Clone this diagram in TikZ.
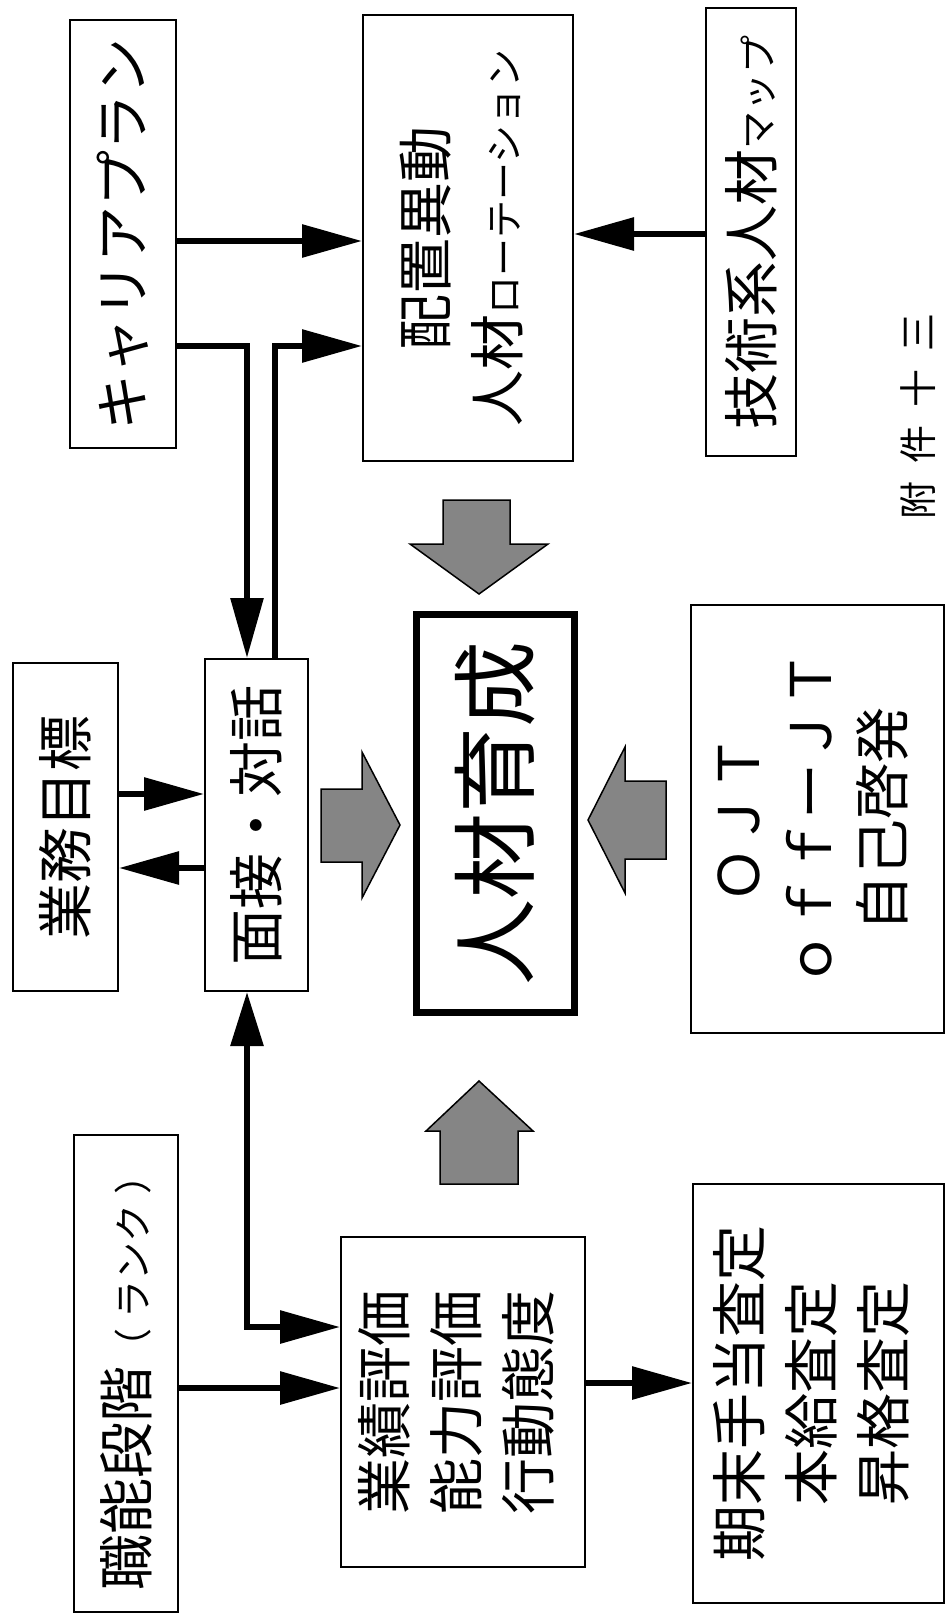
\documentclass[tikz,border=0pt]{standalone}
\usepackage{fontspec}
\setmainfont{Noto Sans CJK JP}
\usepackage{graphicx}
\usetikzlibrary{arrows.meta}
\newcommand{\FBig}{\fontsize{56}{72}\selectfont}
\newcommand{\FSmall}{\fontsize{38}{40}\selectfont}
\newcommand{\FParen}{\fontsize{38}{40}\selectfont}
\newcommand{\FHuge}{\fontsize{86}{90}\selectfont}
\newcommand{\RT}[1]{\rotatebox{90}{#1}}
\begin{document}
\begin{tikzpicture}[x=1pt, y=-1pt,
  box/.style={draw, line width=2pt, inner sep=0pt, anchor=north west, align=center},
  conn/.style={line width=6pt, -{Triangle[length=60pt,width=32pt]}},
  conntwo/.style={line width=6pt, {Triangle[length=54pt,width=32pt]}-{Triangle[length=60pt,width=32pt]}},
  fat/.style={draw, line width=1.5pt, fill=black!48, line join=miter}]
\fill[white] (0,0) rectangle (945,1613);
\useasboundingbox (0,0) rectangle (945,1613);

% boxes
\node[box, minimum width=106pt, minimum height=428pt] (career) at (69,19)
  {\RT{\FBig キャリアプラン}};
\node[box, minimum width=210pt, minimum height=446pt] (haichi) at (362,14)
  {\RT{\FBig\begin{tabular}{@{}c@{}}配置異動\\人材{\FSmall ローテーション}\end{tabular}}};
\node[box, minimum width=90pt, minimum height=448pt] (gijutsu) at (705,7)
  {\RT{\FBig 技術系人材{\FSmall マップ}}};
\node[box, minimum width=105pt, minimum height=328pt] (gyomu) at (12,662)
  {\RT{\FBig 業務目標}};
\node[box, minimum width=103pt, minimum height=332pt] (mensetsu) at (204,658)
  {\RT{\FBig 面接・対話}};
\node[box, line width=7pt, minimum width=158pt, minimum height=398pt] (jinzai) at (413,611)
  {\RT{\FHuge 人材育成}};
\node[box, minimum width=253pt, minimum height=428pt] (ojt) at (690,604)
  {\RT{\FBig\begin{tabular}{@{}c@{}}ＯＪＴ\\ｏｆｆーＪＴ\\自己啓発\end{tabular}}};
\node[box, minimum width=104pt, minimum height=477pt] (shokuno) at (73,1134)
  {\RT{\FBig 職能段階{\FParen （\hspace{10pt}ランク\hspace{10pt}）}}};
\node[box, minimum width=244pt, minimum height=330pt] (hyoka) at (340,1236)
  {\RT{\FBig\begin{tabular}{@{}c@{}}業績評価\\能力評価\\行動態度\end{tabular}}};
\node[box, minimum width=251pt, minimum height=419pt] (kimatsu) at (692,1183)
  {\RT{\FBig\begin{tabular}{@{}c@{}}期末手当査定\\本給査定\\昇格査定\end{tabular}}};

\node[rotate=90, inner sep=0pt, font=\fontsize{38}{38}\selectfont] (fujian) at (918,416)
  {附\hspace{18pt}件\hspace{18pt}十\hspace{18pt}三};

% connectors
\draw[conn] (career.east |- 0,241) -- (haichi.west |- 0,241);
\draw[conn] (gijutsu.west |- 0,234) -- (haichi.east |- 0,234);
\draw[conn] (career.east |- 0,346) -| (247,0 |- mensetsu.north);
\draw[conn] (275,0 |- mensetsu.north) |- (haichi.west |- 0,346);
\draw[conn] (gyomu.east |- 0,794) -- (mensetsu.west |- 0,794);
\draw[conn] (mensetsu.west |- 0,868) -- (gyomu.east |- 0,868);
\draw[conntwo] (247,0 |- mensetsu.south) |- (hyoka.west |- 0,1327);
\draw[conn] (shokuno.east |- 0,1388) -- (hyoka.west |- 0,1388);
\draw[conn] (hyoka.east |- 0,1383) -- (kimatsu.west |- 0,1383);

% fat arrows
\draw[fat] (443,500) -- (510,500) -- (510,544) -- (548,544) -- (479,594) -- (410,544) -- (443,544) -- cycle;
\draw[fat] (440,1184) -- (518,1184) -- (518,1131) -- (533,1131) -- (479,1081) -- (426,1131) -- (440,1131) -- cycle;
\draw[fat] (321,789) -- (362,789) -- (362,752) -- (400,825) -- (362,898) -- (362,862) -- (321,862) -- cycle;
\draw[fat] (666,781) -- (625,781) -- (625,747) -- (588,820) -- (625,893) -- (625,859) -- (666,859) -- cycle;
\end{tikzpicture}
\end{document}
